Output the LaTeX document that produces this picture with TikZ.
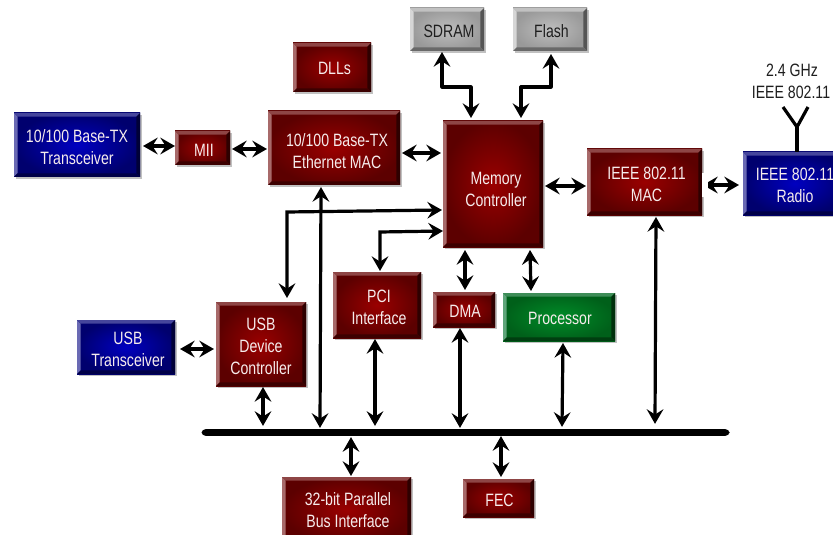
\documentclass[tikz,border=0pt]{standalone}
\usepackage{fontspec}
\setmainfont[FakeStretch=0.79]{Liberation Sans}
\usetikzlibrary{arrows.meta,shadows}
\definecolor{txtw}{HTML}{F6ECEC}
\definecolor{txtd}{HTML}{1E1E1E}
\tikzset{
  bev/.style n args={4}{rectangle,inner sep=0pt,outer sep=0pt,inner color=#1,outer color=#2,
    drop shadow={shadow xshift=1.4pt,shadow yshift=-1.4pt,fill=black!40,opacity=.6},
    path picture={
      \coordinate (bl) at (path picture bounding box.south west);
      \coordinate (br) at (path picture bounding box.south east);
      \coordinate (tl) at (path picture bounding box.north west);
      \coordinate (tr) at (path picture bounding box.north east);
      \def\bw{2.8pt}
      \fill[#3] (bl) -- (tl) -- ([shift={(\bw,-\bw)}]tl) -- ([shift={(\bw,\bw)}]bl) -- cycle;
      \fill[#3!65!#2] (tl) -- (tr) -- ([shift={(-\bw,-\bw)}]tr) -- ([shift={(\bw,-\bw)}]tl) -- cycle;
      \fill[#4] (tr) -- (br) -- ([shift={(-\bw,\bw)}]br) -- ([shift={(-\bw,-\bw)}]tr) -- cycle;
      \fill[#4!70!#2] (bl) -- (br) -- ([shift={(-\bw,\bw)}]br) -- ([shift={(\bw,\bw)}]bl) -- cycle;
    }},
  redbox/.style={bev={HTML9A0000}{HTML5C0000}{HTMLA86A6A}{HTML2E0000}},
  bluebox/.style={bev={HTML0000C0}{HTML00006E}{HTML6A6AB4}{HTML000038}},
  greenbox/.style={bev={HTML008C28}{HTML00601A}{HTML5FA57A}{HTML00300C}},
  greybox/.style={bev={HTMLBEBEBE}{HTML999999}{HTMLD6D6D6}{HTML555555}},
  lblw/.style={text=txtw,align=center,font=\fontsize{13.4pt}{16.5pt}\selectfont,inner sep=0pt},
  lbld/.style={text=txtd,align=center,font=\fontsize{13.4pt}{16.5pt}\selectfont,inner sep=0pt},
  dbl/.style={line width=2.4pt,{Stealth[length=11pt,width=12.5pt,inset=4pt]}-{Stealth[length=11pt,width=12.5pt,inset=4pt]}},
  ant/.style={line width=2.4pt,line cap=butt},
}
\definecolor{HTML9A0000}{HTML}{9A0000}\definecolor{HTML5C0000}{HTML}{5C0000}
\definecolor{HTMLA86A6A}{HTML}{A86A6A}\definecolor{HTML2E0000}{HTML}{2E0000}
\definecolor{HTML0000C0}{HTML}{0000C0}\definecolor{HTML00006E}{HTML}{00006E}
\definecolor{HTML6A6AB4}{HTML}{6A6AB4}\definecolor{HTML000038}{HTML}{000038}
\definecolor{HTML008C28}{HTML}{008C28}\definecolor{HTML00601A}{HTML}{00601A}
\definecolor{HTML5FA57A}{HTML}{5FA57A}\definecolor{HTML00300C}{HTML}{00300C}
\definecolor{HTMLBEBEBE}{HTML}{BEBEBE}\definecolor{HTML999999}{HTML}{999999}
\definecolor{HTMLD6D6D6}{HTML}{D6D6D6}\definecolor{HTML555555}{HTML}{555555}
% name x1 y1 x2 y2 style textstyle dx dy text
\newcommand{\bx}[9]{%
  \pgfmathsetlengthmacro{\bxw}{(#4-#2)*0.75pt}%
  \pgfmathsetlengthmacro{\bxh}{(#5-#3)*0.75pt}%
  \node[#6,minimum width=\bxw,minimum height=\bxh] (#1) at ({(#2+#4)/2},{(#3+#5)/2}) {};%
  \node[#7] (#1-t) at ([shift={(#8,#9)}]#1.center)}
\begin{document}
\begin{tikzpicture}[x=0.75pt,y=-0.75pt]
\useasboundingbox (0,0) rectangle (833,535);
\clip (0,0) rectangle (833,535);
\fill[white] (0,0) rectangle (833,535);

\bx{trans}{14}{113}{140}{177}{bluebox}{lblw}{0}{2}{10/100 Base-TX\\Transceiver};
\bx{mii}{175}{131}{230}{165}{redbox}{lblw}{1.5}{2}{MII};
\bx{eth}{268}{111}{400}{185}{redbox}{lblw}{3}{3}{10/100 Base-TX\\Ethernet MAC};
\bx{dlls}{293}{43}{371}{92}{redbox}{lblw}{2.5}{1}{DLLs};
\bx{sdram}{410}{8}{484}{51}{greybox}{lbld}{2}{1.5}{SDRAM};
\bx{flash}{513}{8}{587}{51}{greybox}{lbld}{1.5}{1.5}{Flash};
\bx{mem}{443}{121}{543}{247}{redbox}{lblw}{3}{5}{Memory\\Controller};
\bx{mac}{587}{149}{702}{215}{redbox}{lblw}{2}{2}{IEEE 802.11\\MAC};
\bx{radio}{743}{152}{847}{215}{bluebox}{lblw}{0}{2}{IEEE 802.11\\Radio};
\bx{usbt}{77}{320}{175}{374}{bluebox}{lblw}{2}{2}{USB\\Transceiver};
\bx{usbd}{216}{302}{306}{386}{redbox}{lblw}{0}{2}{USB\\Device\\Controller};
\bx{pci}{333}{272}{421}{338}{redbox}{lblw}{2}{2}{PCI\\Interface};
\bx{dma}{433}{292}{495}{327}{redbox}{lblw}{1}{2}{DMA};
\bx{proc}{503}{293}{615}{341}{greenbox}{lblw}{1}{1}{Processor};
\bx{par}{282}{477}{411}{543}{redbox}{lblw}{1.5}{0}{32-bit Parallel\\Bus Interface};
\bx{fec}{463}{479}{534}{517}{redbox}{lblw}{1}{2}{FEC};

\node[fill=black,rounded corners=3pt,inner sep=0pt,minimum width=396pt,minimum height=5pt] (bus) at (465.5,432.5) {};

\node[lbld] (ghz) at (792,70) {2.4 GHz};
\node[lbld] (ieee) at (791,92) {IEEE 802.11};

% horizontal links
\draw[dbl] ([shift={(3,1)}]trans.east) -- ([shift={(0,-2)}]mii.west);
\draw[dbl] ([shift={(2,1)}]mii.east) -- ([shift={(-1,1)}]eth.west);
\draw[dbl] ([shift={(2,5)}]eth.east) -- ([shift={(-2,-31)}]mem.west);
\draw[dbl] ([shift={(2,2)}]mem.east) -- ([shift={(-1,4)}]mac.west);
\draw[dbl] ([shift={(1,3)}]mac.east) -- ([shift={(-4,1.5)}]radio.west);
\fill[white] ([shift={(0,-9)}]mac.east) rectangle ([shift={(5.5,15)}]mac.east);
\draw[dbl] ([shift={(5,2)}]usbt.east) -- ([shift={(-2,5)}]usbd.west);

% memory bus
\coordinate (sd1) at (442,87);
\coordinate (sd2) at (471,87);
\coordinate (fl1) at (551,87);
\coordinate (fl2) at (521,87);
\draw[dbl,line join=round] ([shift={(-5,1)}]sdram.south) -- (sd1) -- (sd2) -- ([shift={(-22,-3)}]mem.north);
\draw[dbl,line join=round] ([shift={(1,3)}]flash.south) -- (fl1) -- (fl2) -- ([shift={(28,-3)}]mem.north);

% to memory controller
\coordinate (cu) at (287,212);
\coordinate (cp) at (380,232);
\draw[dbl,line join=miter] ([shift={(-1,26)}]mem.west) -- (cu) -- ([shift={(26,-4)}]usbd.north);
\draw[dbl,line join=miter] ([shift={(0,47)}]mem.west) -- (cp) -- ([shift={(3,-1)}]pci.north);
\draw[dbl] ([shift={(-28,3)}]mem.south) -- ([shift={(1,-2)}]dma.north);
\draw[dbl] ([shift={(37,3)}]mem.south) -- ([shift={(-28,-2)}]proc.north);

% to bus
\draw[dbl] ([shift={(-13,2)}]eth.south) -- ([shift={(-145.5,-1)}]bus.north);
\draw[dbl] ([shift={(2,1)}]usbd.south) -- ([shift={(-202.5,-3)}]bus.north);
\draw[dbl] ([shift={(-2,1)}]pci.south) -- ([shift={(-90.5,-3)}]bus.north);
\draw[dbl] ([shift={(-4,1)}]dma.south) -- ([shift={(-5.5,-1)}]bus.north);
\draw[dbl] ([shift={(4,2)}]proc.south) -- ([shift={(96.5,-2)}]bus.north);
\draw[dbl] ([shift={(11.5,2)}]mac.south) -- ([shift={(189.5,-5)}]bus.north);
\draw[dbl] ([shift={(-114.5,1)}]bus.south) -- ([shift={(4.5,-1)}]par.north);
\draw[dbl] ([shift={(35.5,0)}]bus.south) -- ([shift={(2.5,-2)}]fec.north);

% antenna
\coordinate (antj) at (797,127);
\coordinate (antl) at (783,107);
\coordinate (antr) at (808,107);
\draw[ant] ([shift={(2,0)}]radio.north) -- (antj);
\draw[ant,line join=miter] (antl) -- (antj) -- (antr);
\end{tikzpicture}
\end{document}
